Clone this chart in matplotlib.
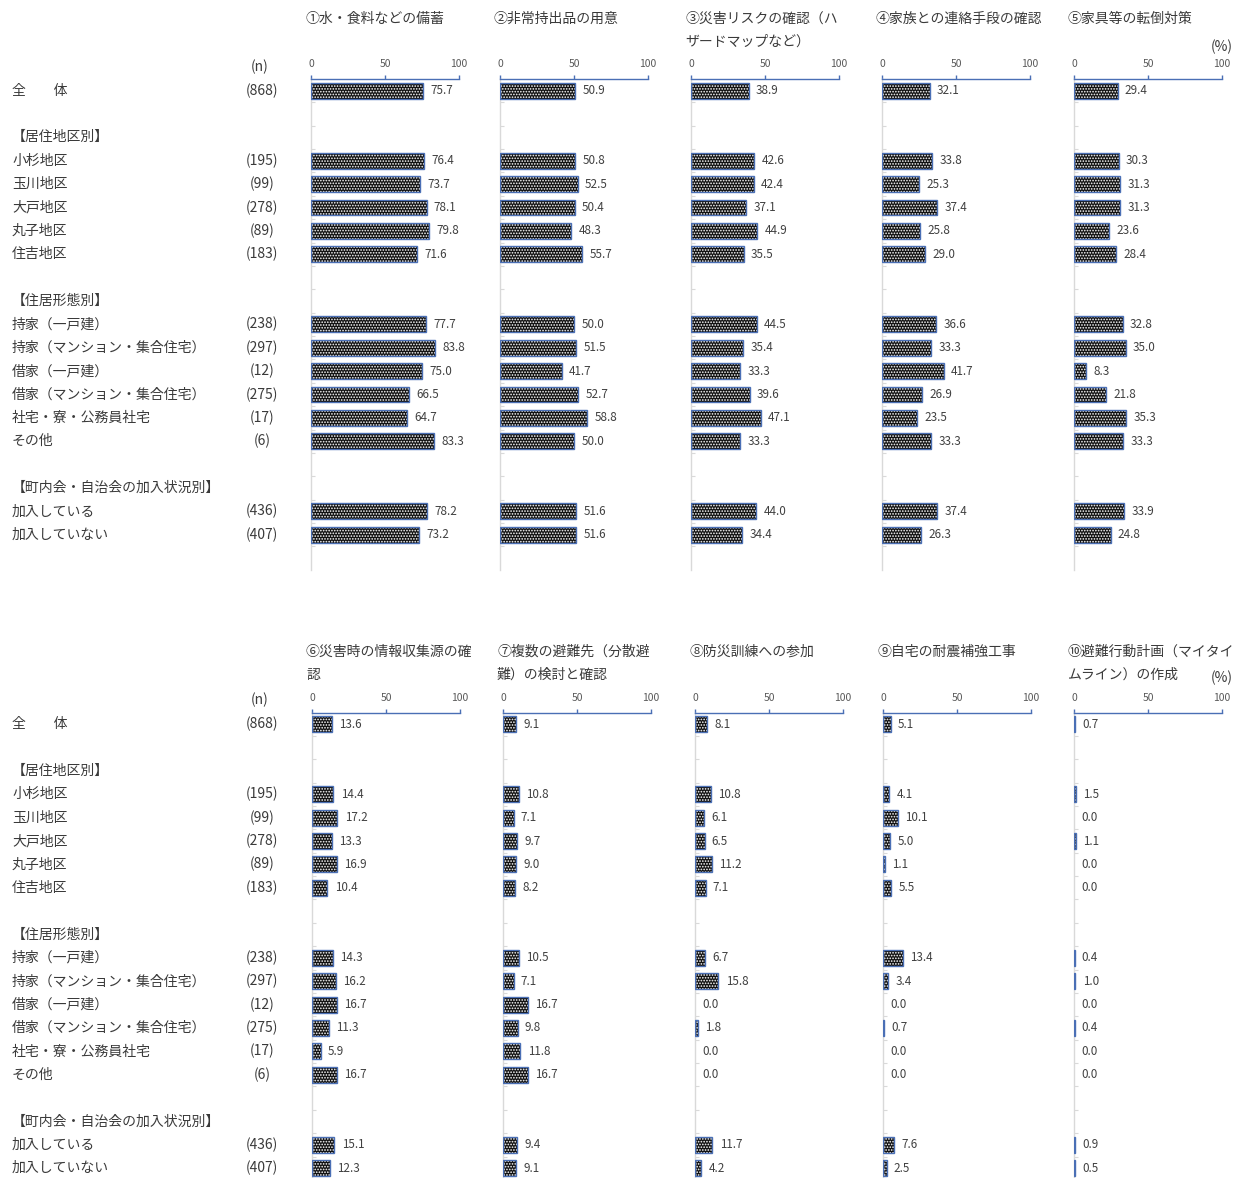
import matplotlib
matplotlib.use("Agg")
import matplotlib.pyplot as plt

plt.rcParams['font.family'] = ['Noto Sans CJK JP', 'DejaVu Sans']
plt.rcParams['hatch.linewidth'] = 0.8

# ---------------- data ----------------
row_labels = ["全　　体", "", "【居住地区別】",
              "小杉地区", "玉川地区", "大戸地区", "丸子地区", "住吉地区", "",
              "【住居形態別】",
              "持家（一戸建）", "持家（マンション・集合住宅）", "借家（一戸建）",
              "借家（マンション・集合住宅）", "社宅・寮・公務員社宅", "その他", "",
              "【町内会・自治会の加入状況別】",
              "加入している", "加入していない"]
n_labels = ["(868)", "", "",
            "(195)", "(99)", "(278)", "(89)", "(183)", "",
            "",
            "(238)", "(297)", "(12)", "(275)", "(17)", "(6)", "",
            "",
            "(436)", "(407)"]
# row index for each data value
data_rows = [0, 3, 4, 5, 6, 7, 10, 11, 12, 13, 14, 15, 18, 19]

titles = ["①水・食料などの備蓄", "②非常持出品の用意", "③災害リスクの確認（ハ\nザードマップなど）",
          "④家族との連絡手段の確認", "⑤家具等の転倒対策",
          "⑥災害時の情報収集源の確\n認", "⑦複数の避難先（分散避\n難）の検討と確認",
          "⑧防災訓練への参加", "⑨自宅の耐震補強工事", "⑩避難行動計画（マイタイ\nムライン）の作成"]

v1 = [75.7, 76.4, 73.7, 78.1, 79.8, 71.6, 77.7, 83.8, 75.0, 66.5, 64.7, 83.3, 78.2, 73.2]
v2 = [50.9, 50.8, 52.5, 50.4, 48.3, 55.7, 50.0, 51.5, 41.7, 52.7, 58.8, 50.0, 51.6, 51.6]
v3 = [38.9, 42.6, 42.4, 37.1, 44.9, 35.5, 44.5, 35.4, 33.3, 39.6, 47.1, 33.3, 44.0, 34.4]
v4 = [32.1, 33.8, 25.3, 37.4, 25.8, 29.0, 36.6, 33.3, 41.7, 26.9, 23.5, 33.3, 37.4, 26.3]
v5 = [29.4, 30.3, 31.3, 31.3, 23.6, 28.4, 32.8, 35.0, 8.3, 21.8, 35.3, 33.3, 33.9, 24.8]
v6 = [13.6, 14.4, 17.2, 13.3, 16.9, 10.4, 14.3, 16.2, 16.7, 11.3, 5.9, 16.7, 15.1, 12.3]
v7 = [9.1, 10.8, 7.1, 9.7, 9.0, 8.2, 10.5, 7.1, 16.7, 9.8, 11.8, 16.7, 9.4, 9.1]
v8 = [8.1, 10.8, 6.1, 6.5, 11.2, 7.1, 6.7, 15.8, 0.0, 1.8, 0.0, 0.0, 11.7, 4.2]
v9 = [5.1, 4.1, 10.1, 5.0, 1.1, 5.5, 13.4, 3.4, 0.0, 0.7, 0.0, 0.0, 7.6, 2.5]
v10 = [0.7, 1.5, 0.0, 1.1, 0.0, 0.0, 0.4, 1.0, 0.0, 0.4, 0.0, 0.0, 0.9, 0.5]
series = [v1, v2, v3, v4, v5, v6, v7, v8, v9, v10]
xticks = [0, 50, 100]

# ---------------- layout (pixels) ----------------
W, H = 1244, 1178
fig = plt.figure(figsize=(W / 100, H / 100), dpi=100)

row_h = 23.37
n_rows = 21  # -0.5 .. 20.5
block_top = [79.0, 712.5]
panel_x = [[311, 500, 691, 882, 1074], [312, 503, 695, 883, 1074]]
panel_w = 148
title_y = [19, 652]
pct_y = [47, 678]
nhead_y = [67, 700]

BLUE = '#4a6fb5'
GRAY_TXT = '#595959'
TXT = '#3a3a3a'
FS = 10


def px2fig(x, y):
    return x / W, 1 - y / H


for b in range(2):
    top = block_top[b]
    # left labels
    for i, (lab, nl) in enumerate(zip(row_labels, n_labels)):
        yy = top + (i + 0.5) * row_h
        if lab:
            fig.text(*px2fig(12, yy), lab, fontsize=FS, color=TXT, va='center', ha='left')
        if nl:
            fig.text(*px2fig(262, yy), nl, fontsize=FS, color=TXT, va='center', ha='center')
    fig.text(*px2fig(260, nhead_y[b]), "(n)", fontsize=FS, color=TXT, va='center', ha='center')
    fig.text(*px2fig(1233, pct_y[b]), "(%)", fontsize=FS, color=TXT, va='center', ha='right')

    for p in range(5):
        k = b * 5 + p
        vals = series[k]
        x0 = panel_x[b][p]
        l, btm = px2fig(x0, top + n_rows * row_h)
        ax = fig.add_axes([l, btm, panel_w / W, n_rows * row_h / H])
        ax.set_xlim(0, 100)
        ax.set_ylim(20.5, -0.5)
        # bars: fill with dot hatch, then outline
        ax.barh(data_rows, vals, height=0.68, color='#111111', edgecolor='white',
                linewidth=0, hatch='......', zorder=2)
        lws = [1.0 if v > 0 else 0 for v in vals]
        ax.barh(data_rows, vals, height=0.68, fill=False, edgecolor=BLUE,
                linewidth=lws, zorder=3)
        for r, v in zip(data_rows, vals):
            ax.annotate(f"{v:.1f}", (v, r), xytext=(5.2, 0), textcoords='offset points',
                        fontsize=8.4, color='#404040', va='center', ha='left')
        # axes styling
        for s in ['right', 'bottom']:
            ax.spines[s].set_visible(False)
        ax.spines['top'].set_color(BLUE)
        ax.spines['top'].set_linewidth(1.0)
        ax.spines['left'].set_color('#d9d9d9')
        ax.spines['left'].set_linewidth(1.0)
        ax.xaxis.tick_top()
        ax.set_xticks(xticks)
        ax.set_xticklabels([str(t) for t in xticks])
        ax.tick_params(axis='x', direction='out', length=3, width=1, color=BLUE,
                       labelsize=7.5, labelcolor=GRAY_TXT, pad=4)
        ax.set_yticks([i + 0.5 for i in range(20)])
        ax.set_yticklabels([])
        ax.tick_params(axis='y', direction='in', length=3, width=0.8, color='#d9d9d9')
        ax.set_facecolor('none')
        # title
        lines = titles[k].split("\n")
        for j, line in enumerate(lines):
            fig.text(*px2fig(x0 - 6, title_y[b] + j * 23), line, fontsize=FS, color=TXT,
                     va='center', ha='left')

fig.savefig("out.png", dpi=100)
